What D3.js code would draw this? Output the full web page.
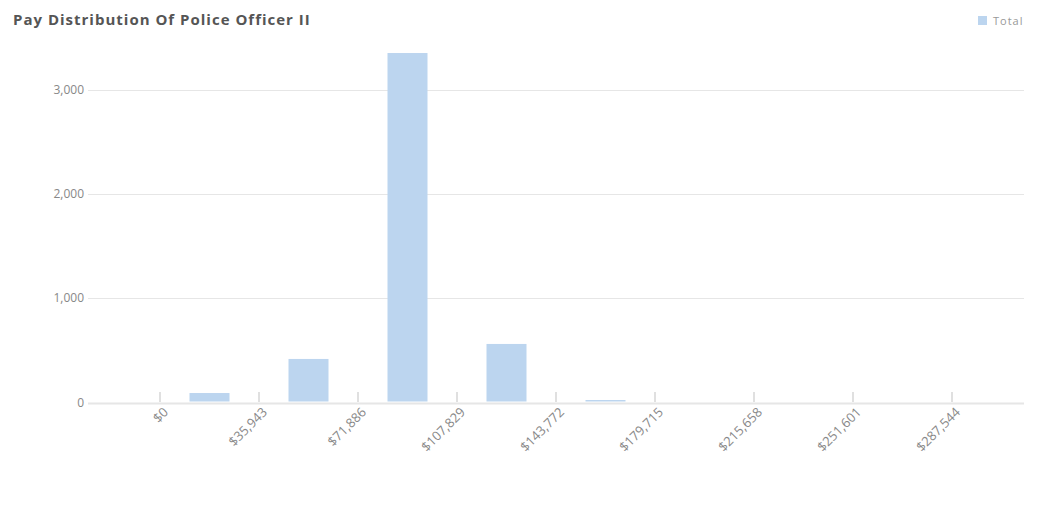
<!DOCTYPE html>
<html><head><meta charset="utf-8">
<script src="https://cdn.jsdelivr.net/npm/d3@7"></script>
<style>
html,body{margin:0;padding:0;background:#fff;}
svg{display:block;font-family:"Open Sans",sans-serif;}
</style></head>
<body>
<svg id="chart" width="1037" height="521"></svg>
<script>
const binStarts = [0, 35943, 71886, 107829, 143772, 179715, 215658, 251601];
const binWidth = 35943;
const totals = [91, 418, 3355, 562, 24, 0, 0, 0];
const xTicks = [0, 35943, 71886, 107829, 143772, 179715, 215658, 251601, 287544];
const yTicks = [0, 1000, 2000, 3000];
const title = "Pay Distribution Of Police Officer II";
const seriesName = "Total";

const svg = d3.select("#chart");
const plotLeft = 88, plotRight = 1024;
const x = d3.scaleLinear().domain([0, 287544]).range([160, 952]);
const y = d3.scaleLinear().domain([0, 3000]).range([402.5, 90]);

svg.append("text").attr("x", 13).attr("y", 25).text(title)
  .attr("font-size", 15).attr("font-weight", 700).attr("fill", "#555")
  .attr("letter-spacing", "1px");

// legend
svg.append("rect").attr("x", 978).attr("y", 16).attr("width", 9).attr("height", 9).attr("fill", "#bcd5ef");
svg.append("text").attr("x", 993).attr("y", 24.5).text(seriesName)
  .attr("font-size", 11).attr("fill", "#999").attr("letter-spacing", "1px");

// grid
const yAxis = svg.append("g");
yTicks.forEach(t => {
  yAxis.append("line").attr("x1", plotLeft).attr("x2", plotRight)
    .attr("y1", Math.round(y(t)) + 0.5).attr("y2", Math.round(y(t)) + 0.5)
    .attr("stroke", "#e6e6e6").attr("stroke-width", t === 0 ? 2 : 1);
  yAxis.append("text").attr("x", 84).attr("y", y(t) + 4).attr("text-anchor", "end")
    .attr("font-size", 12).attr("fill", "#888").text(d3.format(",")(t));
});

// x ticks
const xAxis = svg.append("g");
xTicks.forEach(t => {
  xAxis.append("line").attr("x1", x(t)).attr("x2", x(t)).attr("y1", 392).attr("y2", 402)
    .attr("stroke", "#e0e0e0").attr("stroke-width", 2);
  xAxis.append("text").attr("transform", `translate(${x(t)+9},${413}) rotate(-45)`)
    .attr("text-anchor", "end").attr("font-size", 13).attr("fill", "#888")
    .text("$" + d3.format(",")(t));
});

// bars
svg.append("g").selectAll("rect").data(binStarts.map((s, i) => ({s, v: totals[i]})))
  .join("rect")
  .attr("x", d => x(d.s + binWidth / 2) - 20)
  .attr("width", 40)
  .attr("y", d => y(d.v))
  .attr("height", d => Math.max(0, y(0) - 1 - y(d.v)))
  .attr("fill", "#bcd5ef");
</script>
</body></html>
